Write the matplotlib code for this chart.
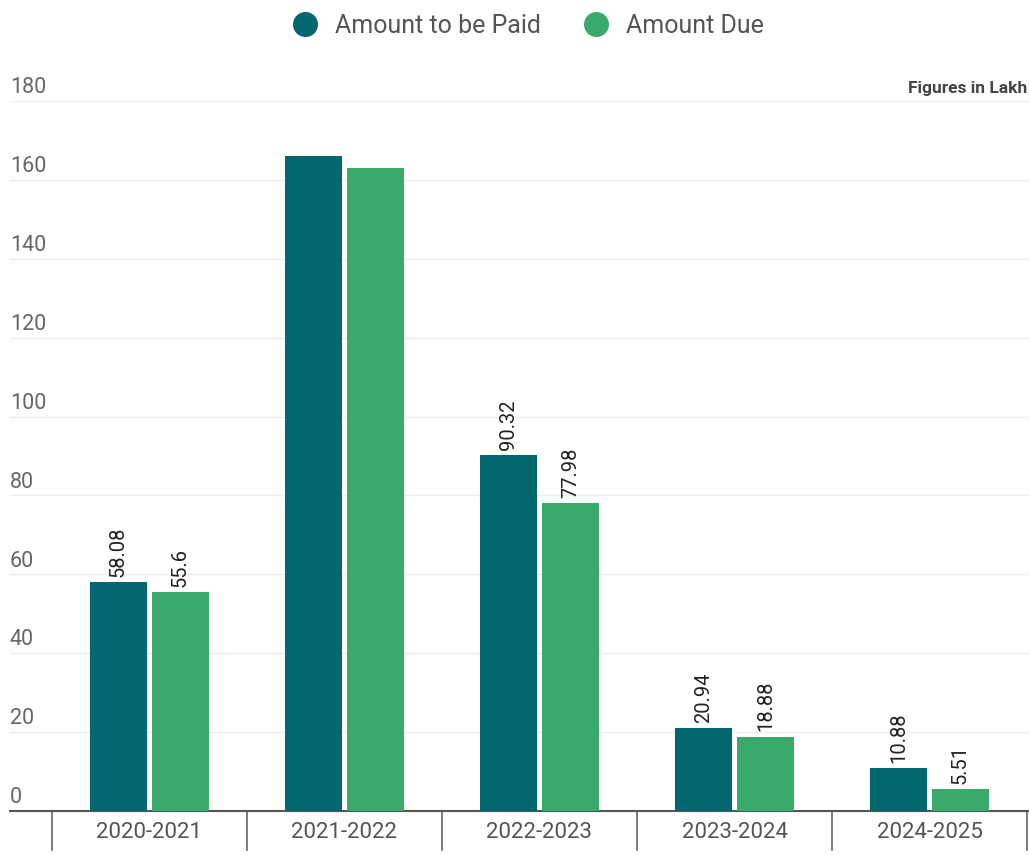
import numpy as np
import matplotlib.pyplot as plt
from matplotlib.lines import Line2D
from matplotlib.transforms import blended_transform_factory

plt.rcParams['font.family'] = ['Roboto', 'DejaVu Sans']

years = ['2020-2021', '2021-2022', '2022-2023', '2023-2024', '2024-2025']
to_be_paid = [58.08, 166.1, 90.32, 20.94, 10.88]
due = [55.6, 163.0, 77.98, 18.88, 5.51]
# 2021-2022 has no value labels in the original
show_label = [True, False, True, True, True]

teal = '#04666f'
green = '#3aa96c'

fig = plt.figure(figsize=(10.29, 8.55), dpi=100)
ax = fig.add_axes([10 / 1029, 44 / 855, 1019 / 1029, 710 / 855])

x = np.arange(len(years))
w = 0.292
off = 0.159
b1 = ax.bar(x - off, to_be_paid, w, color=teal, zorder=3)
b2 = ax.bar(x + off, due, w, color=green, zorder=3)

for bars, vals in ((b1, to_be_paid), (b2, due)):
    for i, (r, v) in enumerate(zip(bars, vals)):
        if show_label[i]:
            ax.text(r.get_x() + r.get_width() / 2, v + 1.3, f'{v:g}',
                    rotation=90, ha='center', va='bottom', fontsize=14.5,
                    color='#222222', zorder=4)

ax.set_ylim(0, 180)
ax.set_xlim(-0.715, 4.51)
ax.set_yticks([])
ax.set_xticks([])
for y in range(20, 181, 20):
    ax.axhline(y, color='#eeeeee', lw=1, zorder=1)

tr = blended_transform_factory(ax.transAxes, ax.transData)
for y in range(0, 181, 20):
    ax.text(0.0, y + 0.7, str(y), transform=tr, ha='left', va='bottom',
            fontsize=15.5, color='#666666')

for s in ['top', 'right', 'left']:
    ax.spines[s].set_visible(False)
ax.spines['bottom'].set_color('#555555')
ax.spines['bottom'].set_linewidth(1.5)

# category separators below axis and labels
trx = blended_transform_factory(ax.transData, ax.transAxes)
for i in range(len(years) + 1):
    ax.plot([i - 0.5, i - 0.5], [0, -0.055], transform=trx, color='#666666',
            lw=1.2, clip_on=False)
for i, yr in enumerate(years):
    ax.text(i, -0.03, yr, transform=trx, ha='center', va='center',
            fontsize=16, color='#555555')

fig.text(1027 / 1029, 1 - 88 / 855, 'Figures in Lakh', ha='right',
         va='center', fontsize=12.5, fontweight='bold', color='#444444')

handles = [Line2D([], [], marker='o', ls='', ms=17, color=teal),
           Line2D([], [], marker='o', ls='', ms=17, color=green)]
fig.legend(handles, ['Amount to be Paid', 'Amount Due'], loc='center',
           bbox_to_anchor=(0.507, 1 - 26 / 855), ncol=2, frameon=False,
           fontsize=18, labelcolor='#555555', handletextpad=0.2,
           columnspacing=1.2)

fig.savefig('out.png', dpi=100, facecolor='white')
